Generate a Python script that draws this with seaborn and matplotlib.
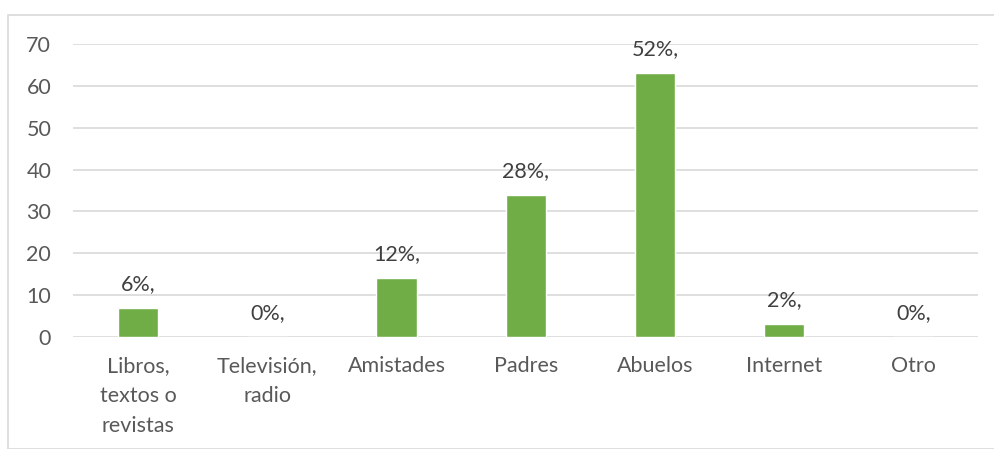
import matplotlib
matplotlib.use("Agg")
import matplotlib.pyplot as plt
import seaborn as sns
import pandas as pd
from matplotlib.patches import Rectangle

categories = ["Libros,\ntextos o\nrevistas", "Televisión,\nradio", "Amistades", "Padres", "Abuelos", "Internet", "Otro"]
values = [7, 0, 14, 34, 63, 3, 0]
labels = ["6%,", "0%,", "12%,", "28%,", "52%,", "2%,", "0%,"]
yticks = [0, 10, 20, 30, 40, 50, 60, 70]

sns.set_theme(style="white")
plt.rcParams['font.family'] = ['Lato', 'DejaVu Sans']

W, H = 995, 449
FS = 15.5
fig = plt.figure(figsize=(W/100, H/100), dpi=100)
ax = fig.add_axes([73.4/W, 1-337/H, (978-73.4)/W, (337-44)/H])

df = pd.DataFrame({"cat": categories, "val": values})
sns.barplot(data=df, x="cat", y="val", color="#70AD47", saturation=1, width=0.31, ax=ax)

ax.set_ylim(0, 70)
ax.set_yticks(yticks)
ax.set_xlim(-0.5, len(categories)-0.5)
ax.grid(axis="y", color="#D9D9D9", linewidth=1.2)
ax.set_axisbelow(True)
for s in ax.spines.values():
    s.set_visible(False)
ax.set_xlabel("")
ax.set_ylabel("")
ax.tick_params(axis="y", labelsize=FS, colors="#595959", length=0, pad=16)
ax.tick_params(axis="x", labelsize=FS, colors="#595959", length=0, pad=14)
for t in ax.get_xticklabels():
    t.set_linespacing(1.6)
    t.set_ha("center")

for i, (v, lab) in enumerate(zip(values, labels)):
    ax.annotate(lab, (i, v), xytext=(0, 10), textcoords="offset points",
                ha="center", va="bottom", fontsize=FS, color="#404040")

fig.patches.append(Rectangle((8/W, 0), 1.2, 1-15/H, transform=fig.transFigure,
                             fill=False, edgecolor="#D9D9D9", linewidth=1.2))

fig.savefig("out.png", dpi=100)
